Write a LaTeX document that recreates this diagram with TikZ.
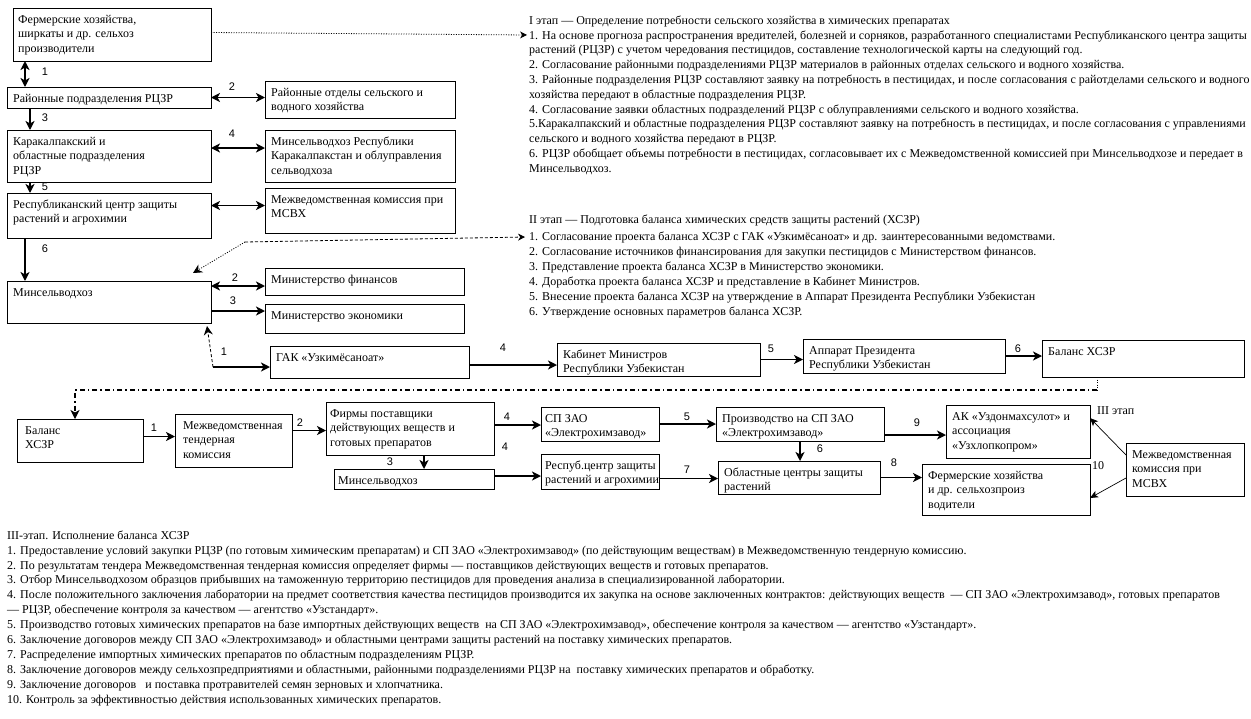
\documentclass[tikz,border=0pt]{standalone}
\usepackage{fontspec}
\setmainfont{Liberation Serif}
\newfontfamily\lblfont{Liberation Sans}
\usetikzlibrary{arrows.meta,calc}
\newcommand\fsz{\fontsize{12}{14.5}\selectfont}
\newcommand\mybox[7][6]{%
  \node[box, minimum width={(#5-#3)*1pt}, minimum height={(#6-#4)*1pt}] (#2) at (#3,#4) {};
  \node[btxt] at ([xshift=#1pt,yshift=-4pt]#2.north west) {\rule{0pt}{11pt}#7};}
\begin{document}
\begin{tikzpicture}[x=1pt,y=-1pt,
  box/.style={draw, line width=0.8pt, inner sep=0pt, outer sep=0pt, anchor=north west},
  btxt/.style={anchor=north west, inner sep=0pt, align=left, font=\fsz},
  blk/.style={anchor=north west, inner sep=0pt, align=left},
  lbl/.style={inner sep=0pt, font=\lblfont\fontsize{11}{13}\selectfont},
  arr/.style={line width=1.8pt, -{Stealth[length=9pt,width=9pt,inset=2.5pt]}},
  darr/.style={line width=1.8pt, {Stealth[length=9pt,width=9pt,inset=2.5pt]}-{Stealth[length=9pt,width=9pt,inset=2.5pt]}},
  tarr/.style={line width=0.7pt, -{Stealth[length=8pt,width=7pt,inset=2pt]}},
  dotl/.style={line width=0.8pt, dash pattern=on 1pt off 1.5pt},
  dashl/.style={line width=0.8pt, dash pattern=on 3pt off 2pt},
  ddot/.style={line width=1.3pt, dash pattern=on 5pt off 3pt on 1.5pt off 3pt}]
\useasboundingbox (0,0) rectangle (1251,718);
\fill[white] (0,0) rectangle (1251,718);

% ---- stage I / II boxes
\mybox[5]{b1}{13}{8}{211}{61}{Фермерские хозяйства,\\ширкаты и др. сельхоз\\производители}
\mybox{b2}{7}{87}{211}{108}{Районные подразделения РЦЗР}
\mybox{b3}{265}{81}{455}{118}{Районные отделы сельского и\\водного хозяйства}
\mybox{b4}{7}{130}{211}{182}{Каракалпакский и\\областные подразделения\\РЦЗР}
\mybox{b5}{265}{130}{455}{182}{Минсельводхоз Республики\\Каракалпакстан и облуправления\\сельводхоза}
\mybox{b6}{7}{193}{211}{238}{Республиканский центр защиты\\растений и агрохимии}
\mybox{b7}{265}{188}{455}{233}{Межведомственная комиссия при\\МСВХ}
\mybox{b8}{7}{281}{211}{323}{Минсельводхоз}
\mybox{b9}{265}{268}{464}{295}{Министерство финансов}
\mybox{b10}{265}{304}{464}{333}{Министерство экономики}
\mybox{b11}{270}{346}{469}{378}{ГАК «Узкимёсаноат»}
\mybox{b12}{557}{343}{760}{376}{Кабинет Министров\\Республики Узбекистан}
\mybox{b13}{803}{339}{1005}{373}{Аппарат Президента\\Республики Узбекистан}
\mybox{b14}{1042}{340}{1244}{377}{Баланс ХСЗР}

% ---- stage III boxes
\mybox[8]{c1}{17}{419}{143}{462}{Баланс\\ХСЗР}
\mybox[8]{c2}{175}{414}{292}{467}{Межведомственная\\тендерная\\комиссия}
\mybox[4]{c3}{326}{402}{494}{455}{Фирмы поставщики\\действующих веществ и\\готовых препаратов}
\mybox[4]{c4}{334}{469}{494}{489}{Минсельводхоз}
\mybox[4]{c5}{541}{407}{659}{441}{СП ЗАО\\«Электрохимзавод»}
\mybox[4]{c6}{541}{454}{659}{489}{Респуб.центр защиты\\растений и агрохимии}
\mybox{c7}{716}{407}{884}{441}{Производство на СП ЗАО\\«Электрохимзавод»}
\mybox{c8}{718}{461}{880}{494}{Областные центры защиты\\растений}
\mybox{c9}{946}{405}{1090}{458}{АК «Уздонмахсулот» и\\ассоциация\\«Узхлопкопром»}
\mybox{c10}{922}{464}{1090}{515}{Фермерские хозяйства\\и др. сельхозпроиз\\водители}
\mybox{c11}{1126}{443}{1244}{496}{Межведомственная\\комиссия  при\\МСВХ}

% ---- text blocks
\node[blk, font=\fontsize{12}{14.8}\selectfont] (tI) at (529,13) {\rule{0pt}{11pt}I этап — Определение потребности сельского хозяйства в химических препаратах\\
1. На основе прогноза распространения вредителей, болезней и сорняков, разработанного специалистами  Республиканского центра защиты\\
растений  (РЦЗР)  с учетом чередования пестицидов, составление технологической карты на следующий год.\\
2. Согласование районными подразделениями РЦЗР материалов в районных отделах сельского и водного хозяйства.\\
3. Районные подразделения РЦЗР составляют заявку на потребность в пестицидах, и после согласования  с райотделами сельского и водного\\
хозяйства передают в областные подразделения РЦЗР.\\
4. Согласование заявки областных подразделений РЦЗР с облуправлениями сельского и водного хозяйства.\\
5.Каракалпакский и областные подразделения РЦЗР  составляют заявку на потребность в пестицидах, и после согласования с управлениями\\
сельского и водного хозяйства передают в РЦЗР.\\
6. РЦЗР обобщает объемы потребности в пестицидах, согласовывает их с Межведомственной комиссией при Минсельводхозе и передает в\\
Минсельводхоз.};
\node[blk, font=\fsz] (tII) at (529,212) {\rule{0pt}{11pt}II этап — Подготовка баланса химических средств защиты растений (ХСЗР)};
\node[blk, font=\fontsize{12}{15}\selectfont] (tIIl) at (529,229) {\rule{0pt}{11pt}1. Согласование проекта баланса ХСЗР с ГАК «Узкимёсаноат» и др. заинтересованными ведомствами.\\
2. Согласование источников финансирования для закупки пестицидов с Министерством финансов.\\
3. Представление проекта баланса ХСЗР в Министерство экономики.\\
4. Доработка проекта баланса ХСЗР и представление в Кабинет Министров.\\
5. Внесение проекта баланса ХСЗР на утверждение в Аппарат Президента Республики Узбекистан\\
6. Утверждение основных параметров баланса ХСЗР.};
\node[blk, font=\fontsize{12}{14.9}\selectfont] (tIII) at (7,528) {\rule{0pt}{11pt}III-этап. Исполнение баланса ХСЗР\\
1. Предоставление условий закупки РЦЗР (по готовым химическим препаратам) и СП ЗАО «Электрохимзавод» (по действующим веществам) в Межведомственную тендерную комиссию.\\
2. По результатам тендера Межведомственная тендерная комиссия определяет фирмы — поставщиков действующих веществ и готовых препаратов.\\
3. Отбор Минсельводхозом  образцов прибывших на таможенную территорию пестицидов для проведения анализа в специализированной  лаборатории.\\
4. После положительного заключения лаборатории на предмет соответствия качества пестицидов производится их закупка на основе заключенных контрактов: действующих веществ ~— СП ЗАО «Электрохимзавод», готовых препаратов\\
— РЦЗР, обеспечение контроля за качеством — агентство «Узстандарт».\\
5. Производство готовых химических препаратов на базе импортных действующих веществ ~на СП ЗАО «Электрохимзавод», обеспечение контроля за качеством — агентство «Узстандарт».\\
6. Заключение договоров между СП ЗАО «Электрохимзавод» и областными центрами защиты растений на поставку химических препаратов.\\
7. Распределение импортных химических препаратов по областным подразделениям РЦЗР.\\
8. Заключение договоров между сельхозпредприятиями и областными, районными подразделениями РЦЗР на ~поставку химических препаратов и обработку.\\
9. Заключение договоров ~ и поставка протравителей семян зерновых и хлопчатника.\\
10. Контроль за эффективностью действия использованных химических препаратов.};
\node[anchor=west, inner sep=0pt, font=\fsz] (t3) at (1097,411) {III этап};

% ---- connectors stage I/II
\coordinate (e1) at (527,35);
\draw[dotl, -{Stealth[length=7pt,width=7pt]}] ([yshift=2pt]b1.east) -- (e1);
\draw[darr] ([xshift=12pt]b1.south west) -- ([xshift=18pt]b2.north west);
\draw[darr] (b2.east) -- (b2.east -| b3.west);
\draw[arr] ([xshift=23pt]b2.south west) -- ([xshift=23pt]b4.north west);
\coordinate (p4) at ([yshift=8pt]b4.east);
\draw[darr] (p4) -- (p4 -| b5.west);
\draw[arr] ([xshift=23pt]b4.south west) -- ([xshift=23pt]b6.north west);
\coordinate (p6) at ([yshift=10pt]b6.east);
\draw[darr] (p6) -- (p6 -| b7.west);
\draw[arr] ([xshift=18pt]b6.south west) -- ([xshift=18pt]b8.north west);
\coordinate (d0) at (245,242);
\coordinate (e2) at (525,237);
\draw[dashl, -{Stealth[length=7pt,width=7pt]}] (d0) -- (e2);
\draw[dotl, -{Stealth[length=9pt,width=9pt]}] (d0) -- ([xshift=-18pt,yshift=8pt]b8.north east);
\coordinate (p8) at ([yshift=-5pt]b8.north east);
\draw[darr] (p8) -- (p8 -| b9.west);
\coordinate (p9) at ([yshift=12pt]b8.south east);
\draw[arr] (p9) -- (p9 -| b10.west);
\coordinate (g0) at (213,367);
\draw[arr] (g0) -- (g0 -| b11.west);
\draw[dashl, -{Stealth[length=9pt,width=9pt]}] (g0) -- ([xshift=-4pt,yshift=-3pt]b8.south east);
\coordinate (p11) at ([yshift=-3pt]b11.east);
\draw[arr] (p11) -- (p11 -| b12.west);
\draw[arr] (b12.east) -- (b12.east -| b13.west);
\draw[arr] (b13.east) -- (b13.east -| b14.west);
\coordinate (r1) at ([xshift=55pt]b14.south west);
\coordinate (r2) at ([yshift=-13pt]r1);
\coordinate (r3) at ([xshift=58pt]c1.north west);
\draw[dotl] (r1) -- (r2);
\draw[ddot, -{Stealth[length=9pt,width=9pt,inset=2.5pt]}] (r2) -- (r2 -| r3) -- (r3);

% ---- connectors stage III
\coordinate (q1) at ([yshift=4pt]c1.east);
\draw[arr] (q1) -- (q1 -| c2.west);
\coordinate (q2) at ([yshift=10pt]c2.east);
\draw[arr] (q2) -- (q2 -| c3.west);
\coordinate (q3) at ([xshift=98pt]c3.south west);
\draw[arr] (q3) -- (q3 |- c4.north);
\coordinate (q4) at ([yshift=3.5pt]c3.east);
\draw[arr] (q4) -- (q4 -| c5.west);
\coordinate (q5) at ([yshift=3pt]c4.east);
\draw[arr] (q5) -- (q5 -| c6.west);
\draw[arr] (c5.east) -- (c5.east -| c7.west);
\coordinate (q7) at ([xshift=84pt]c7.south west);
\draw[arr] (q7) -- (q7 |- c8.north);
\coordinate (q8) at ([yshift=-7pt]c6.east);
\draw[arr] (q8) -- (q8 -| c8.west);
\draw[arr] (c8.east) -- (c8.east -| c10.west);
\coordinate (q9) at ([yshift=6pt]c7.south east);
\draw[arr] (q9) -- (q9 -| c9.west);
\draw[tarr] ([yshift=-12pt]c11.north west) -- ([yshift=-13pt]c9.north east);
\draw[tarr] ([yshift=18pt]c11.south west) -- ([yshift=17pt]c10.south east);

% ---- labels
\node[lbl] (l1) at (45,72) {1};
\node[lbl] (l2) at (232,87) {2};
\node[lbl] (l3) at (45,118) {3};
\node[lbl] (l4) at (232,134) {4};
\node[lbl] (l5) at (45,187) {5};
\node[lbl] (l6) at (45,249) {6};
\node[lbl] (m2) at (235,278) {2};
\node[lbl] (m3) at (233,301) {3};
\node[lbl] (m1) at (224,352) {1};
\node[lbl] (m4) at (503,348) {4};
\node[lbl] (m5) at (771,349) {5};
\node[lbl] (m6) at (1018,349) {6};
\node[lbl] (n1) at (154,428) {1};
\node[lbl] (n2) at (300,423) {2};
\node[lbl] (n4) at (507,417) {4};
\node[lbl] (n3) at (390,462) {3};
\node[lbl] (n4b) at (505,447) {4};
\node[lbl] (n5) at (687,417) {5};
\node[lbl] (n6) at (820,449) {6};
\node[lbl] (n7) at (687,470) {7};
\node[lbl] (n8) at (894,463) {8};
\node[lbl] (n9) at (917,423) {9};
\node[inner sep=0pt, font=\fsz] (n10) at (1098,466) {10};
\end{tikzpicture}
\end{document}
